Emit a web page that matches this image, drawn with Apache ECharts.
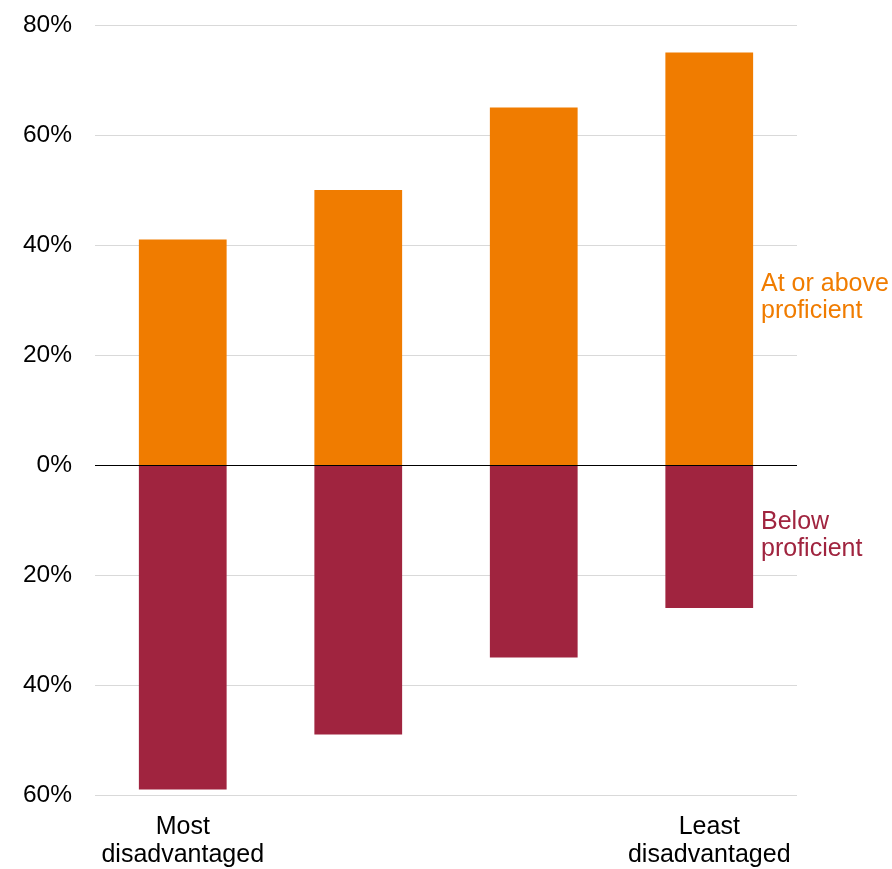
<!DOCTYPE html>
<html>
<head>
<meta charset="utf-8">
<script src="https://cdn.jsdelivr.net/npm/echarts@6/dist/echarts.min.js"></script>
<style>html,body{margin:0;padding:0;background:#fff;overflow:hidden;}#c{width:892px;height:869px;}</style>
</head>
<body>
<div id="c"></div>
<script>
var categories = ['Most\ndisadvantaged', '', '', 'Least\ndisadvantaged'];
var aboveProficient = [41, 50, 65, 75];
var belowProficient = [59, 49, 35, 26];
var yTicks = [-60, -40, -20, 0, 20, 40, 60, 80];

var chart = echarts.init(document.getElementById('c'), null, {renderer: 'canvas'});
var FONT = 'Liberation Sans, Arial, sans-serif';
chart.setOption({
  animation: false,
  grid: {left: 95, right: 95, top: 25, bottom: 69, containLabel: false},
  xAxis: {
    type: 'category',
    data: categories,
    position: 'bottom',
    axisLine: {show: false},
    axisTick: {show: false},
    axisLabel: {fontFamily: FONT, fontSize: 25, color: '#000', lineHeight: 28, margin: 18, interval: 0}
  },
  yAxis: {
    type: 'value',
    min: yTicks[0],
    max: yTicks[yTicks.length - 1],
    interval: 20,
    axisLine: {show: false},
    axisTick: {show: false},
    splitLine: {lineStyle: {color: '#d9d9d9', width: 1}},
    axisLabel: {fontFamily: FONT, fontSize: 24.5, color: '#000', margin: 23,
      formatter: function (v) { return Math.abs(v) + '%'; }}
  },
  series: [
    {
      name: 'At or above proficient',
      type: 'bar',
      stack: 'a',
      barWidth: '50%',
      itemStyle: {color: '#F07C00'},
      data: aboveProficient,
      markLine: {
        silent: true, symbol: 'none', label: {show: false},
        lineStyle: {color: '#000', width: 1, type: 'solid'},
        data: [{yAxis: 0}]
      }
    },
    {
      name: 'Below proficient',
      type: 'bar',
      stack: 'a',
      barWidth: '50%',
      itemStyle: {color: '#A0243F'},
      data: belowProficient.map(function (v) { return -v; })
    }
  ],
  graphic: [
    {type: 'text', left: 761, top: 271, style: {text: 'At or above\nproficient', fill: '#F07C00', font: '25px ' + FONT, lineHeight: 27}},
    {type: 'text', left: 761, top: 509, style: {text: 'Below\nproficient', fill: '#A0243F', font: '25px ' + FONT, lineHeight: 27}}
  ]
});
</script>
</body>
</html>
